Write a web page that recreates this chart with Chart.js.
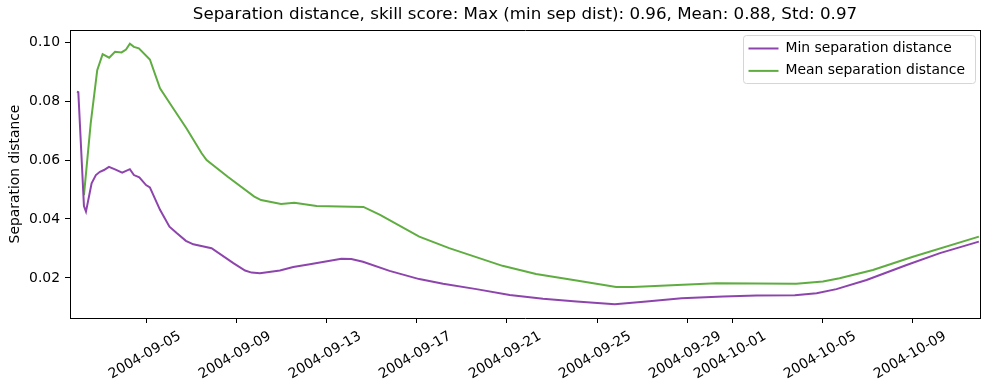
<!DOCTYPE html>
<html>
<head>
<meta charset="utf-8">
<script src="https://cdn.jsdelivr.net/npm/chart.js@4.4.1/dist/chart.umd.min.js"></script>
<style>
  html, body { margin: 0; padding: 0; background: #fff; }
  canvas { display: block; }
</style>
</head>
<body>
<canvas id="sepChart" width="989" height="390"></canvas>
<script>
// days are counted from startDate
const startDate = '2004-09-01';
const tickLabels = ['2004-09-05', '2004-09-09', '2004-09-13', '2004-09-17', '2004-09-21',
  '2004-09-25', '2004-09-29', '2004-10-01', '2004-10-05', '2004-10-09'];
const yTicks = [0.02, 0.04, 0.06, 0.08, 0.10];

const minDays = [0.89, 0.95, 1.2, 1.29, 1.54, 1.73, 1.91, 2.09, 2.31, 2.58, 2.9, 3.24, 3.42, 3.66,
  3.96, 4.13, 4.58, 5.0, 5.32, 5.73, 6.06, 6.87, 7.84, 8.36, 8.65, 9.02, 9.91, 10.5, 11.24, 12.64,
  13.08, 13.6, 14.78, 16.1, 17.16, 18.64, 20.12, 21.6, 23.09, 24.79, 26.2, 27.76, 29.61, 31.09,
  32.79, 33.76, 34.64, 35.98, 37.76, 39.24, 40.97];
const minValues = [0.0832, 0.0830, 0.0444, 0.0425, 0.0521, 0.0549, 0.0560, 0.0566, 0.0577, 0.0568,
  0.0557, 0.0569, 0.0549, 0.0541, 0.0515, 0.0507, 0.0431, 0.0374, 0.0352, 0.0326, 0.0314, 0.0301,
  0.0250, 0.0225, 0.0218, 0.0216, 0.0225, 0.0237, 0.0246, 0.0265, 0.0264, 0.0255, 0.0224, 0.0196,
  0.0180, 0.0162, 0.0142, 0.0129, 0.0120, 0.0111, 0.0120, 0.0131, 0.0137, 0.0140, 0.0141, 0.0148,
  0.0162, 0.0193, 0.0244, 0.0284, 0.0323];

const meanDays = [1.2, 1.5, 1.79, 2.03, 2.32, 2.58, 2.87, 3.07, 3.24, 3.42, 3.64, 4.13, 4.58, 5.17,
  5.76, 6.43, 6.65, 7.59, 8.77, 9.07, 9.96, 10.55, 11.54, 13.62, 14.36, 16.1, 17.43, 19.8, 21.29,
  23.09, 24.85, 25.59, 29.3, 32.85, 34.04, 34.78, 36.26, 38.04, 40.97];
const meanValues = [0.0481, 0.0724, 0.0905, 0.0959, 0.0947, 0.0967, 0.0965, 0.0975, 0.0995, 0.0984,
  0.0979, 0.0941, 0.0843, 0.0775, 0.0707, 0.0623, 0.0600, 0.0543, 0.0476, 0.0464, 0.0451, 0.0455,
  0.0444, 0.0441, 0.0414, 0.0340, 0.0301, 0.0241, 0.0213, 0.0191, 0.0169, 0.0169, 0.0182, 0.0180,
  0.0188, 0.0199, 0.0227, 0.0272, 0.0340];

function dayOf(label) {
  return (Date.parse(label) - Date.parse(startDate)) / 86400000;
}
const tickDays = tickLabels.map(dayOf);

function toPoints(days, values) {
  return days.map((d, i) => ({x: d, y: values[i]}));
}

Chart.defaults.font.family = '"DejaVu Sans", sans-serif';
Chart.defaults.font.size = 13.9;
Chart.defaults.color = '#000';

// move the legend to the upper right of the plot and give it a frame
const legendBox = {
  id: 'legendBox',
  afterLayout(chart) {
    const lg = chart.legend, area = chart.chartArea;
    lg.left = area.right - 240;
    lg.right = lg.left + lg.width;
    lg.top = area.top + 3;
  },
  beforeDraw(chart) {
    const lg = chart.legend, area = chart.chartArea, ctx = chart.ctx;
    const x = lg.left + 3, y = lg.top + 2;
    const w = area.right - 5 - x;
    const h = 48;
    ctx.save();
    ctx.beginPath();
    ctx.roundRect(x + 0.5, y + 0.5, w, h, 3);
    ctx.fillStyle = 'rgba(255,255,255,0.8)';
    ctx.fill();
    ctx.strokeStyle = '#d5d5d5';
    ctx.lineWidth = 1;
    ctx.stroke();
    ctx.restore();
  }
};

new Chart(document.getElementById('sepChart'), {
  type: 'line',
  data: {
    datasets: [{
      label: 'Min separation distance',
      data: toPoints(minDays, minValues),
      borderColor: '#8e44ad',
      backgroundColor: '#8e44ad',
      borderWidth: 2,
      pointRadius: 0,
      tension: 0
    }, {
      label: 'Mean separation distance',
      data: toPoints(meanDays, meanValues),
      borderColor: '#5fad41',
      backgroundColor: '#5fad41',
      borderWidth: 2,
      pointRadius: 0,
      tension: 0
    }]
  },
  options: {
    responsive: false,
    animation: false,
    devicePixelRatio: 1,
    layout: { padding: { left: 0, right: 9, top: 0, bottom: 0 } },
    plugins: {
      title: {
        display: true,
        fullSize: false,
        text: 'Separation distance, skill score: Max (min sep dist): 0.96, Mean: 0.88, Std: 0.97',
        font: { size: 16.7, weight: 'normal' },
        color: '#000',
        lineHeight: 1.2,
        padding: { top: 5, bottom: 5 }
      },
      legend: {
        position: 'chartArea',
        align: 'start',
        labels: {
          usePointStyle: true,
          pointStyle: 'line',
          pointStyleWidth: 30,
          padding: 8.5,
          font: { size: 13.9 },
          color: '#000'
        }
      },
      tooltip: { enabled: false }
    },
    scales: {
      x: {
        type: 'linear',
        position: 'bottom',
        min: 0.58,
        max: 41.02,
        afterBuildTicks: (s) => { s.ticks = tickDays.map(v => ({value: v})); },
        afterFit: (s) => { s.height = 72; },
        ticks: {
          autoSkip: false,
          minRotation: 30,
          maxRotation: 30,
          labelOffset: 33,
          padding: 5,
          font: { size: 13.9 },
          callback: (v) => tickLabels[tickDays.indexOf(v)]
        },
        grid: { display: true, drawOnChartArea: false, tickLength: 5, color: '#000' },
        border: { color: '#000', width: 1 }
      },
      y: {
        type: 'linear',
        position: 'left',
        min: 0.0064,
        max: 0.1041,
        afterBuildTicks: (s) => { s.ticks = yTicks.map(v => ({value: v})); },
        afterFit: (s) => { s.width = 70; },
        title: {
          display: true,
          text: 'Separation distance',
          font: { size: 13.9 },
          padding: { top: 7, bottom: 0 }
        },
        ticks: {
          padding: 5,
          font: { size: 13.9 },
          callback: (v) => v.toFixed(2)
        },
        grid: { display: true, drawOnChartArea: false, tickLength: 5, color: '#000' },
        border: { color: '#000', width: 1 }
      },
      x2: {
        type: 'linear',
        position: 'top',
        min: 0, max: 1,
        ticks: { display: false },
        grid: { display: false },
        border: { color: '#000', width: 1 },
        afterFit: (s) => { s.height = 0; }
      },
      y2: {
        type: 'linear',
        position: 'right',
        min: 0, max: 1,
        ticks: { display: false },
        grid: { display: false },
        border: { color: '#000', width: 1 },
        afterFit: (s) => { s.width = 0; }
      }
    }
  },
  plugins: [legendBox]
});
</script>
</body>
</html>
